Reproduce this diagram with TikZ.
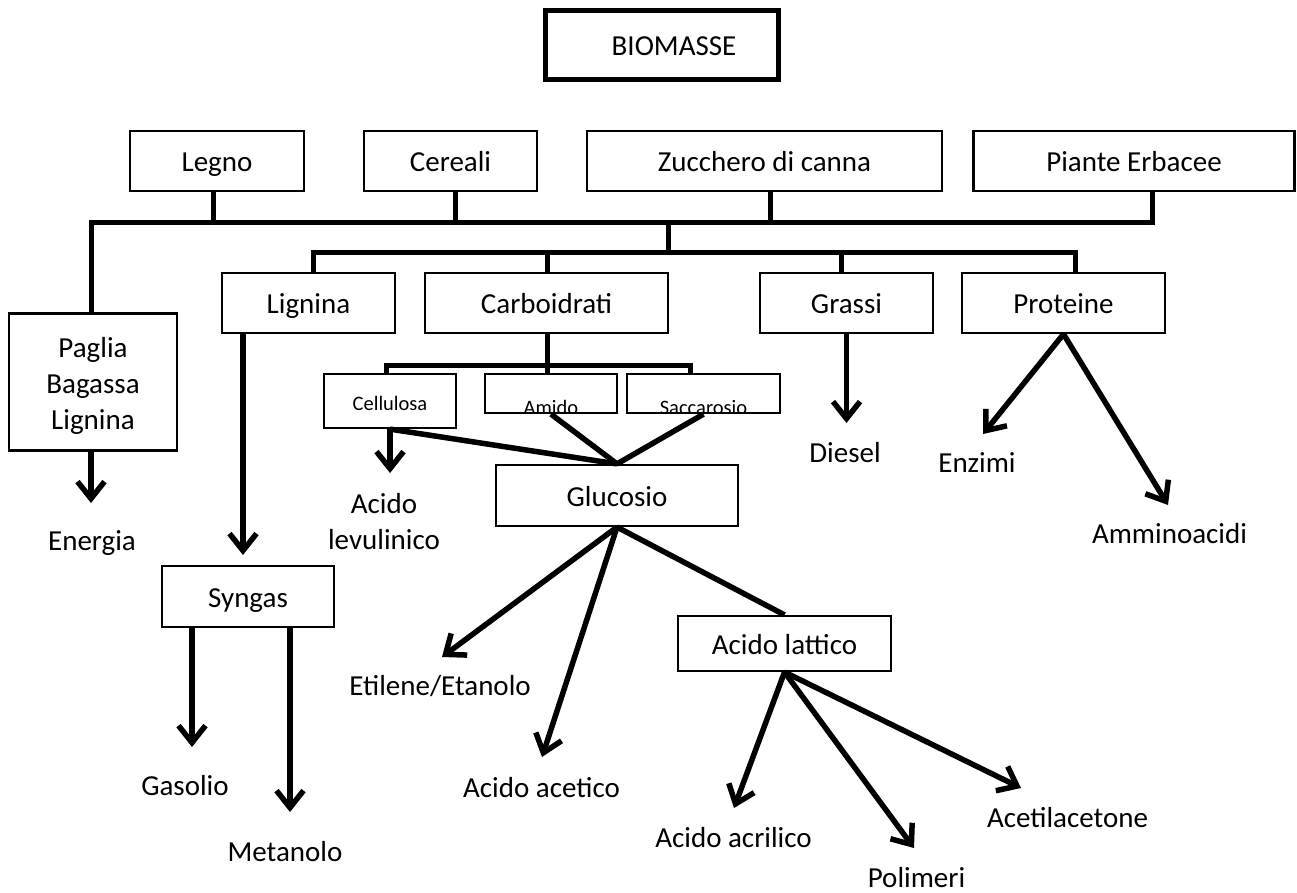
\documentclass[tikz,border=0pt]{standalone}
\usepackage{fontspec}
\setmainfont{Carlito}
\usetikzlibrary{arrows.meta}
\newcommand{\bigtxt}{\fontsize{29}{36}\selectfont}
\newcommand{\smalltxt}{\fontsize{20.5}{24}\selectfont}
\begin{document}
\begin{tikzpicture}[x=1pt,y=-1pt,
  box/.style={draw, line width=2.2pt, fill=white, inner sep=0pt, font=\bigtxt, text height=21.5pt, text depth=0pt},
  sbox/.style={draw, line width=2.2pt, fill=white, inner sep=0pt, font=\smalltxt, text height=18pt, text depth=0pt},
  cutbox/.style={draw, line width=2.2pt, fill=white, inner sep=0pt,
    path picture={\node[anchor=base, inner sep=0pt, font=\smalltxt] at ([yshift=-1pt]path picture bounding box.south) {#1};}},
  lbl/.style={inner sep=0pt, font=\bigtxt, text height=21.5pt, text depth=0pt},
  bus/.style={line width=5pt},
  link/.style={line width=5.5pt},
  arr/.style={line width=5.5pt, -{Straight Barb[length=17pt,width=27pt]}},
]
\useasboundingbox (0,0) rectangle (1297,892);

% root
\node[box, line width=5pt, minimum width=233pt, minimum height=69pt] (bio) at (662,45) {\hspace*{24pt}BIOMASSE};

% sources
\node[box, minimum width=174pt, minimum height=60pt] (legno) at (217,161) {Legno};
\node[box, minimum width=173pt, minimum height=60pt] (cereali) at (450.5,161) {Cereali};
\node[box, minimum width=355pt, minimum height=60pt] (zucchero) at (764.5,161) {Zucchero di canna};
\node[box, minimum width=321pt, minimum height=60pt] (piante) at (1134,161) {Piante Erbacee};

% components
\node[box, minimum width=173pt, minimum height=60pt] (lignina) at (308.5,303) {Lignina};
\node[box, minimum width=243pt, minimum height=60pt] (carbo) at (546.5,303) {Carboidrati};
\node[box, minimum width=173pt, minimum height=60pt] (grassi) at (846.5,303) {Grassi};
\node[box, minimum width=203pt, minimum height=60pt] (proteine) at (1063.5,303) {Proteine};
\node[draw, line width=2.2pt, fill=white, inner sep=0pt, font=\bigtxt, align=center,
      minimum width=168pt, minimum height=137pt] (paglia) at (93,382) {\rule{0pt}{28pt}Paglia\\Bagassa\\Lignina};

% carbohydrates
\node[sbox, minimum width=132pt, minimum height=54pt] (cellulosa) at (390,401) {Cellulosa};
\node[cutbox=Amido, minimum width=132pt, minimum height=39pt] (amido) at (551,393.5) {};
\node[cutbox=Saccarosio, minimum width=153pt, minimum height=39pt] (saccarosio) at (703.5,393.5) {};

% intermediates
\node[box, minimum width=242pt, minimum height=61pt] (glucosio) at (617,495.5) {Glucosio};
\node[box, minimum width=172pt, minimum height=61pt] (syngas) at (248,596.5) {Syngas};
\node[box, minimum width=213pt, minimum height=55pt] (lattico) at (784.5,643.5) {Acido lattico};

% products
\node[lbl] (energia) at (92,540) {Energia};
\node[inner sep=0pt, font=\bigtxt, align=center] (levulinico) at (384,521.5) {Acido\\levulinico};
\node[lbl] (etilene) at (440,684.5) {Etilene/Etanolo};
\node[lbl] (acetico) at (541.5,786.5) {Acido acetico};
\node[lbl] (gasolio) at (185,784.5) {Gasolio};
\node[lbl] (metanolo) at (285,851) {Metanolo};
\node[lbl] (diesel) at (845,451.5) {Diesel};
\node[lbl] (enzimi) at (977,461.5) {Enzimi};
\node[lbl] (ammino) at (1169.5,532.5) {Amminoacidi};
\node[lbl] (acrilico) at (733.5,836.5) {Acido acrilico};
\node[lbl] (polimeri) at (916.5,876.5) {Polimeri};
\node[lbl] (acetil) at (1067.5,816.5) {Acetilacetone};

% bus points
\coordinate (b1L) at (91,222);
\coordinate (b1R) at (1152,222);
\coordinate (s1a) at (213,222);
\coordinate (s1b) at (455,222);
\coordinate (s1c) at (770,222);
\coordinate (j12) at (668,222);
\coordinate (b2j) at (668,252);
\coordinate (b2L) at (313,252);
\coordinate (b2R) at (1075,252);
\coordinate (s2b) at (547,252);
\coordinate (s2c) at (841,252);
\coordinate (b3L) at (386,365);
\coordinate (b3R) at (690,365);
\coordinate (s3b) at (547,365);

% arrow tips
\coordinate (tEnergia) at (91,503);
\coordinate (tLignina) at (243,555);
\coordinate (tGasolio) at (192,747);
\coordinate (tMetanolo) at (290,812);
\coordinate (tLev) at (390,473);
\coordinate (tEtilene) at (442,657);
\coordinate (tAcetico) at (542,757);
\coordinate (tAcrilico) at (734,808);
\coordinate (tPolimeri) at (914,848);
\coordinate (tAcetil) at (1021,788);
\coordinate (tDiesel) at (846.5,423);
\coordinate (tEnzimi) at (983,434);
\coordinate (tAmmino) at (1168,505);

% first bus
\draw[bus] (paglia.north -| b1L) -- (b1L) -- (b1R) -- (piante.south -| b1R);
\draw[bus] (legno.south -| s1a) -- (s1a);
\draw[bus] (cereali.south -| s1b) -- (s1b);
\draw[bus] (zucchero.south -| s1c) -- (s1c);
\draw[bus] (j12) -- (b2j);

% second bus
\draw[bus] (lignina.north -| b2L) -- (b2L) -- (b2R) -- (proteine.north -| b2R);
\draw[bus] (carbo.north -| s2b) -- (s2b);
\draw[bus] (grassi.north -| s2c) -- (s2c);

% third bus
\draw[bus] (carbo.south -| s3b) -- (s3b);
\draw[bus] (cellulosa.north -| b3L) -- (b3L) -- (b3R) -- (saccarosio.north -| b3R);
\draw[bus] (amido.north -| s3b) -- (s3b);

% sugars to glucose
\draw[link] (cellulosa.south) -- (glucosio.north);
\draw[link] (amido.south) -- (glucosio.north);
\draw[link] (saccarosio.south) -- (glucosio.north);
\draw[link] (glucosio.south) -- (lattico.north);

% product arrows
\draw[arr] (paglia.south -| tEnergia) -- (tEnergia);
\draw[arr] (lignina.south -| tLignina) -- (tLignina);
\draw[arr] (syngas.south -| tGasolio) -- (tGasolio);
\draw[arr] (syngas.south -| tMetanolo) -- (tMetanolo);
\draw[arr] (cellulosa.south) -- (tLev);
\draw[arr] (glucosio.south) -- (tEtilene);
\draw[arr] (glucosio.south) -- (tAcetico);
\draw[arr] (lattico.south) -- (tAcrilico);
\draw[arr] (lattico.south) -- (tPolimeri);
\draw[arr] (lattico.south) -- (tAcetil);
\draw[arr] (grassi.south) -- (tDiesel);
\draw[arr] (proteine.south) -- (tEnzimi);
\draw[arr] (proteine.south) -- (tAmmino);
\end{tikzpicture}
\end{document}
